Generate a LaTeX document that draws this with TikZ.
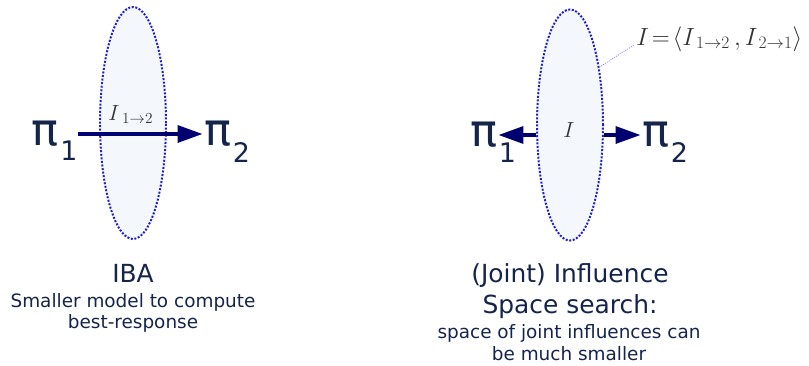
\RequirePackage{fix-cm}
\documentclass[tikz,border=0pt]{standalone}
\usepackage[no-math]{fontspec}
\setmainfont{DejaVu Sans}
\usetikzlibrary{arrows.meta, positioning, shapes.geometric}
\definecolor{cnavy}{HTML}{000070}
\definecolor{cink}{HTML}{14244A}
\definecolor{cdot}{HTML}{2020D0}
\definecolor{cfill}{HTML}{F4F8FC}
\definecolor{cmath}{HTML}{333333}
\definecolor{clead}{HTML}{8A8AD8}
\tikzset{
  every picture/.style={line width=1pt},
  infl/.style={ellipse, draw=cdot, fill=cfill, line width=2pt, dash pattern=on 2pt off 1.6pt, minimum width=66bp, minimum height=232bp, inner sep=0pt},
  pol/.style={text=cink, font=\fontsize{45}{45}\selectfont, inner sep=1pt},
  polsub/.style={text=cink, font=\fontsize{27}{27}\selectfont, inner sep=0pt, anchor=base west},
  flow/.style={-{Triangle[length=25bp, width=17bp]}, draw=cnavy, line width=3.5bp},
  lead/.style={draw=clead, line width=0.8pt, dash pattern=on 1pt off 1.2pt},
  mathlbl/.style={text=cmath, inner sep=2pt},
  head/.style={text=cink, font=\fontsize{25}{30}\selectfont, anchor=base, inner sep=0pt},
  body/.style={text=cink, font=\fontsize{18.5}{22}\selectfont, anchor=base, inner sep=0pt},
}

\begin{document}
\begin{tikzpicture}[x=1bp, y=-1bp]
  \useasboundingbox (0,0) rectangle (809,365);
  % IBA
  \node[infl] (e1) at (133,123) {};
  \node[pol] (p1) at (45,134) {π};
  \node[polsub] (p1s) at ([yshift=-15bp]p1.base east) {1};
  \node[pol] (p2) at (217.5,134) {π};
  \node[polsub] (p2s) at ([yshift=-17bp]p2.base east) {2};
  \draw[flow] (p1s.east |- p1) -- (p2.west);
  \node[mathlbl, anchor=base west] (lbl1) at (106,120) {\fontsize{22}{22}\selectfont $I_{\;1\to 2}$};
  \node[head] (ibahead) at (133,282) {IBA};
  \node[body] (ibabody1) at (133,307) {Smaller model to compute};
  \node[body] (ibabody2) at (133,328) {best-response};
  % joint influence
  \node[infl, minimum height=231bp] (e2) at (570,125) {};
  \node[pol] (q1) at (483.5,135) {π};
  \node[polsub] (q1s) at ([yshift=-16bp]q1.base east) {1};
  \node[pol] (q2) at (655.5,135) {π};
  \node[polsub] (q2s) at ([yshift=-16bp]q2.base east) {2};
  \draw[flow] (e2.west |- q1) -- (q1.east);
  \draw[flow] (e2.east |- q2) -- (q2.west);
  \node[mathlbl, anchor=base] (lbl2) at (569,137) {\fontsize{22}{22}\selectfont $I$};
  \node[mathlbl, anchor=base west] (lbl3) at (634,45) {\fontsize{25}{25}\selectfont $I\!=\!\langle I_{\,1\to 2}\,, I_{\,2\to 1}\rangle$};
  \draw[lead] (e2.63) -- (lbl3.base west);
  \node[head] (jshead1) at (570,282) {(Joint) Influence};
  \node[head] (jshead2) at (570,313) {Space search:};
  \node[body] (jsbody1) at (569,338) {space of joint influences can};
  \node[body] (jsbody2) at (569,360) {be much smaller};
\end{tikzpicture}
\end{document}
